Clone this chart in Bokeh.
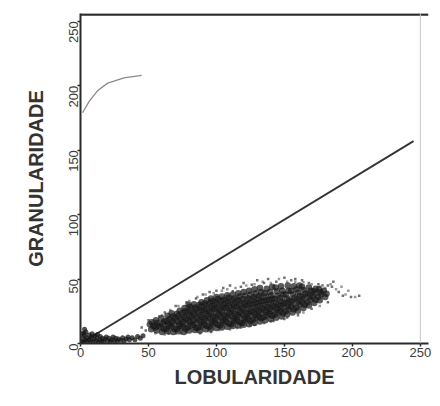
import math
from bokeh.plotting import figure
from bokeh.models import Span, FixedTicker, Range1d
from bokeh.embed import file_html
from bokeh.resources import INLINE

# ---- data ----
x_ticks = [0, 50, 100, 150, 200, 250]
y_ticks = [0, 50, 100, 150, 200, 250]

# separating diagonal
diag_x = [0, 245]
diag_y = [0, 157]

# gate curve in the upper-left corner
curve_x = [1.5, 6.5, 12.5, 20, 32, 45]
curve_y = [179, 188, 196, 202, 206, 208]

# main population (read column by column)
cloud_x_cols = [
    [52, 53.5, 51, 52.5],
    [56, 55, 57, 56.5, 55.5],
    [60, 61, 59, 60.5, 61.5, 59.5],
    [64, 63, 65, 64.5, 63.5, 65.5, 64],
    [68, 69, 67, 68.5, 67.5, 69.5, 68, 67],
    [72, 71, 73, 72.5, 71.5, 73.5, 72, 71, 73],
    [76, 77, 75, 76.5, 75.5, 77.5, 76, 75, 77, 76.5],
    [80, 79, 81, 80.5, 79.5, 81.5, 80, 79, 81, 80.5, 79.5],
    [84, 85, 83, 84.5, 83.5, 85.5, 84, 83, 85, 84.5, 83.5],
    [88, 87, 89, 88.5, 87.5, 89.5, 88, 87, 89, 88.5, 87.5, 89],
    [92, 93, 91, 92.5, 91.5, 93.5, 92, 91, 93, 92.5, 91.5, 93],
    [96, 95, 97, 96.5, 95.5, 97.5, 96, 95, 97, 96.5, 95.5, 97, 96],
    [100, 101, 99, 100.5, 99.5, 101.5, 100, 99, 101, 100.5, 99.5, 101, 100],
    [104, 103, 105, 104.5, 103.5, 105.5, 104, 103, 105, 104.5, 103.5, 105, 104],
    [108, 109, 107, 108.5, 107.5, 109.5, 108, 107, 109, 108.5, 107.5, 109, 108],
    [112, 111, 113, 112.5, 111.5, 113.5, 112, 111, 113, 112.5, 111.5, 113, 112],
    [116, 117, 115, 116.5, 115.5, 117.5, 116, 115, 117, 116.5, 115.5, 117, 116],
    [120, 119, 121, 120.5, 119.5, 121.5, 120, 119, 121, 120.5, 119.5, 121, 120],
    [124, 125, 123, 124.5, 123.5, 125.5, 124, 123, 125, 124.5, 123.5, 125, 124],
    [128, 127, 129, 128.5, 127.5, 129.5, 128, 127, 129, 128.5, 127.5, 129, 128],
    [132, 133, 131, 132.5, 131.5, 133.5, 132, 131, 133, 132.5, 131.5, 133, 132],
    [136, 135, 137, 136.5, 135.5, 137.5, 136, 135, 137, 136.5, 135.5, 137],
    [140, 141, 139, 140.5, 139.5, 141.5, 140, 139, 141, 140.5, 139.5, 141],
    [144, 143, 145, 144.5, 143.5, 145.5, 144, 143, 145, 144.5, 143.5],
    [148, 149, 147, 148.5, 147.5, 149.5, 148, 147, 149, 148.5, 147.5],
    [152, 151, 153, 152.5, 151.5, 153.5, 152, 151, 153, 152.5],
    [156, 157, 155, 156.5, 155.5, 157.5, 156, 155, 157],
    [160, 159, 161, 160.5, 159.5, 161.5, 160, 159, 161],
    [164, 165, 163, 164.5, 163.5, 165.5, 164, 163],
    [168, 167, 169, 168.5, 167.5, 169.5, 168],
    [172, 173, 171, 172.5, 171.5, 173],
    [176, 175, 177, 176.5, 175.5],
    [180, 181, 179],
]
cloud_y_cols = [
    [11, 13.5, 15, 16.5],
    [10, 12.5, 14, 16, 18],
    [9, 11.5, 13, 15.5, 17, 19.5],
    [9.5, 11, 13.5, 15, 17.5, 19, 21.5],
    [9, 11.5, 13, 15.5, 17, 19.5, 21, 23.5],
    [9.5, 11, 13.5, 15, 17.5, 19, 21.5, 23, 25.5],
    [9, 11.5, 13, 15.5, 17, 19.5, 21, 23.5, 25, 27.5],
    [10, 12.5, 14, 16.5, 18, 20.5, 22, 24.5, 26, 28.5, 30],
    [10.5, 12, 14.5, 16, 18.5, 20, 22.5, 24, 26.5, 28, 30.5],
    [10, 12.5, 14, 16.5, 18, 20.5, 22, 24.5, 26, 28.5, 30, 32],
    [11, 13.5, 15, 17.5, 19, 21.5, 23, 25.5, 27, 29.5, 31, 33.5],
    [11.5, 13, 15.5, 17, 19.5, 21, 23.5, 25, 27.5, 29, 31.5, 33, 35],
    [12, 14.5, 16, 18.5, 20, 22.5, 24, 26.5, 28, 30.5, 32, 34.5, 36],
    [12.5, 14, 16.5, 18, 20.5, 22, 24.5, 26, 28.5, 30, 32.5, 34, 36.5],
    [13, 15.5, 17, 19.5, 21, 23.5, 25, 27.5, 29, 31.5, 33, 35.5, 37.5],
    [13.5, 15, 17.5, 19, 21.5, 23, 25.5, 27, 29.5, 31, 33.5, 35, 38],
    [14, 16.5, 18, 20.5, 22, 24.5, 26, 28.5, 30, 32.5, 34, 36.5, 39],
    [14.5, 16, 18.5, 20, 22.5, 24, 26.5, 28, 30.5, 32, 34.5, 37, 40],
    [15, 17.5, 19, 21.5, 23, 25.5, 27, 29.5, 31, 33.5, 35, 38, 41],
    [16, 18.5, 20, 22.5, 24, 26.5, 28, 30.5, 32, 34.5, 36, 39, 42],
    [17, 19.5, 21, 23.5, 25, 27.5, 29, 31.5, 33, 35.5, 37, 40, 43],
    [18, 20.5, 22, 24.5, 26, 28.5, 30, 32.5, 34, 36.5, 39, 42.5],
    [19, 21.5, 23, 25.5, 27, 29.5, 31, 33.5, 35, 37.5, 40, 44],
    [20, 22.5, 24, 26.5, 28, 30.5, 32, 34.5, 37, 40.5, 43.5],
    [21, 23.5, 25, 27.5, 29, 31.5, 33, 35.5, 38, 41, 44.5],
    [22.5, 25, 26.5, 29, 31, 33.5, 35, 38, 41, 45],
    [24, 26.5, 28.5, 31, 33, 35.5, 38, 41, 44.5],
    [25.5, 28, 30, 32.5, 34.5, 37, 39.5, 42, 45],
    [27.5, 30, 32, 34.5, 36.5, 39, 41.5, 44],
    [29.5, 32, 34, 36.5, 38.5, 41, 43.5],
    [31.5, 34, 36, 38.5, 40.5, 42.5],
    [33.5, 36, 38, 40, 42],
    [36, 38.5, 41],
]

# scattered events around the main population
sparse_x = [48, 45, 50, 58, 62, 70, 78, 85, 90, 95,
            100, 105, 110, 112, 118, 120, 126, 130, 135, 138,
            144, 150, 155, 158, 163, 168, 175, 178, 182, 185,
            186, 190, 193, 199, 205, 88, 96, 110, 118, 125,
            135, 142, 150, 160, 170, 182, 65, 74]
sparse_y = [10, 12.5, 18, 21, 24, 29, 32, 35, 38, 40,
            41, 43, 45, 40.5, 44, 47, 45.5, 49, 47, 50,
            48, 51, 49, 50, 49, 47, 46, 45, 45, 44,
            48, 40, 37, 36, 37, 8, 9, 11, 12.5, 14,
            16, 17.5, 19, 22, 27, 32, 7.5, 8]

# more faint events along the edges of the population
fringe_x = [60, 66, 72, 80, 86, 92, 98, 104, 108, 114,
            122, 128, 134, 140, 146, 152, 158, 164, 170, 176,
            180, 184, 188, 55, 62, 70, 78, 86, 94, 102,
            115, 128, 140, 152, 164, 176, 192, 197, 195, 202]
fringe_y = [22, 26, 29, 33, 36, 38, 39, 41, 42, 43,
            45, 46, 48, 47, 50, 48, 48, 47.5, 46, 44,
            43, 46, 42, 8, 7, 7.5, 8.5, 9, 9.5, 10.5,
            12, 14.5, 17, 20, 24, 29, 44, 41, 38, 36]

# small population near the origin
low_x = [0.5, 1.5, 2, 3, 3.5, 4.5, 5, 6, 6.5, 7.5,
         8, 9, 10, 10.5, 11.5, 12, 13, 14, 14.5, 15.5,
         16, 17, 18, 19, 20, 21, 22, 23, 24, 25,
         26, 27, 28, 29.5, 31, 32, 33.5, 35, 36, 38,
         40, 42, 44, 46, 1, 2.5, 4, 8.5, 12.5, 3]
low_y = [1.5, 4, 1, 6, 2.5, 4.5, 1, 3, 6.5, 2,
         5, 1.5, 3.5, 6, 2, 4.5, 1, 3, 5.5, 2,
         4, 1.5, 3.5, 5, 2, 4, 1.5, 3, 5, 2,
         4, 1.5, 3.5, 2.5, 4.5, 2, 3.5, 5, 3, 4.5,
         3, 5.5, 4, 6, 7.5, 8, 9, 7.5, 7, 11]

cloud_x = [v for col in cloud_x_cols for v in col]
cloud_y = [v for col in cloud_y_cols for v in col]

FONT = "Liberation Sans"

p = figure(width=432, height=398,
           x_range=Range1d(0, 256), y_range=Range1d(0, 256),
           output_backend="svg", toolbar_location=None,
           min_border_left=80, min_border_right=4,
           min_border_top=13, min_border_bottom=55)
p.outline_line_color = None
p.grid.visible = False
p.background_fill_color = "white"
p.border_fill_color = "white"

# frame lines (top bold, right faint)
p.add_layout(Span(location=255.2, dimension="width", line_color="#2a2a2a", line_width=2.5))
p.add_layout(Span(location=250, dimension="height", line_color="#c8c8c8", line_width=1))

p.line(diag_x, diag_y, line_color="#333333", line_width=1.8)
p.line(curve_x, curve_y, line_color="#8a8a8a", line_width=1.3)

p.scatter(fringe_x, fringe_y, marker="square", size=2.5, fill_color="#555555",
          line_color=None, fill_alpha=0.6)
p.scatter(low_x, low_y, marker="circle", size=5, fill_color="#151515",
          line_color=None, fill_alpha=0.75)
p.scatter(cloud_x, cloud_y, marker="circle", size=6.5, fill_color="#151515",
          line_color=None, fill_alpha=0.7)
p.scatter(sparse_x, sparse_y, marker="square", size=2.5, fill_color="#333333",
          line_color=None, fill_alpha=0.7)

for ax, ticks in ((p.xaxis, x_ticks), (p.yaxis, y_ticks)):
    ax.ticker = FixedTicker(ticks=ticks)
    ax.minor_tick_line_color = None
    ax.axis_line_color = "#2a2a2a"
    ax.axis_line_width = 2
    ax.major_tick_line_color = "#2a2a2a"
    ax.major_tick_line_width = 1.5
    ax.major_tick_out = 3
    ax.major_tick_in = 0
    ax.major_label_text_font = FONT
    ax.major_label_text_font_size = "13px"
    ax.major_label_text_color = "#3c3c3c"
    ax.axis_label_text_font = FONT
    ax.axis_label_text_font_style = "bold"
    ax.axis_label_text_font_size = "20px"
    ax.axis_label_text_color = "#333333"

p.xaxis.axis_label = "LOBULARIDADE"
p.yaxis.axis_label = "GRANULARIDADE"
p.xaxis.major_label_standoff = 1
p.xaxis.axis_label_standoff = 6
p.yaxis.major_label_orientation = math.pi / 2
p.yaxis.major_label_standoff = 4
p.yaxis.axis_label_standoff = 15

open("out.html", "w").write(file_html(p, INLINE))
